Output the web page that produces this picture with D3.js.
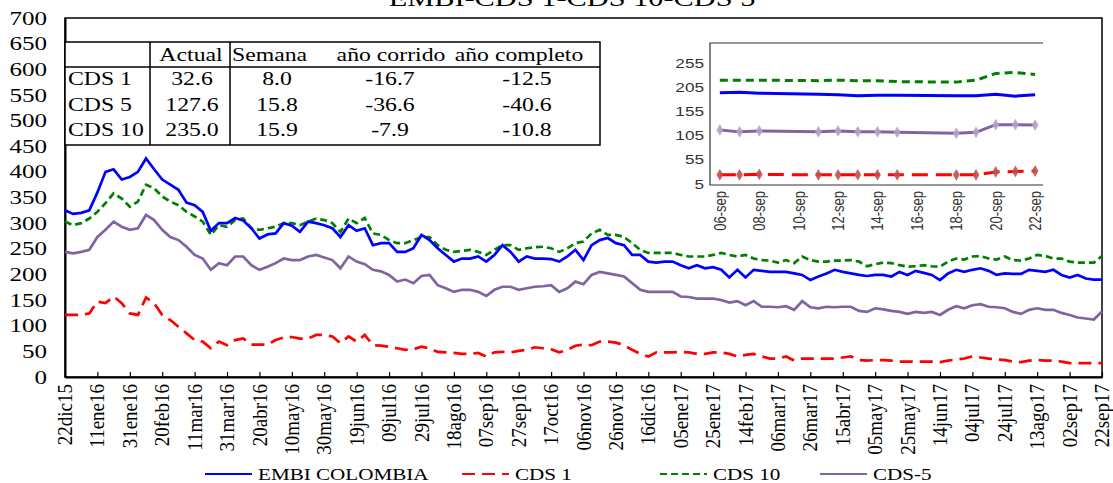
<!DOCTYPE html>
<html>
<head>
<meta charset="utf-8">
<script src="https://cdn.jsdelivr.net/npm/d3@7"></script>
<style>
  body { margin: 0; background: #fff; }
  svg text { font-family: "Liberation Serif", "Times New Roman", serif; fill: #000; }
  .inset text { font-family: "Liberation Sans", Arial, sans-serif; fill: #333; }
</style>
</head>
<body>
<div class="chart"></div>
<script>
// Serie principal: un dato cada 5 dias desde el 22dic15 hasta el 22sep17
var pasoDias = 5;
var embi = [325,318,320,325,360,400,405,385,390,400,
  426,405,385,375,365,340,335,322,285,300,
  300,310,305,290,270,278,280,300,295,283,
  303,300,296,290,273,296,285,290,257,261,
  261,244,244,251,277,267,251,238,225,231,
  231,235,225,238,257,244,225,235,231,231,
  230,225,235,248,228,257,267,271,261,257,
  238,238,225,223,225,225,218,212,218,212,
  214,209,194,209,194,209,207,205,205,205,
  202,199,189,196,202,209,205,202,199,197,
  199,199,196,205,199,207,203,199,189,202,
  209,205,209,212,207,199,202,201,201,209,
  207,205,209,199,194,199,192,190,190];
var cds1 = [121,121,121,124,147,144,157,144,124,121,
  155,144,121,111,98,85,72,69,56,69,
  62,72,75,63,63,63,72,77,78,75,
  75,82,82,79,66,79,69,82,62,61,
  59,56,53,54,59,56,49,48,47,45,
  45,47,40,48,49,48,51,53,58,56,
  54,48,53,61,63,62,69,69,67,62,
  53,45,40,48,48,48,49,48,45,45,
  48,48,45,40,43,45,40,36,36,40,
  32,36,36,36,36,36,38,40,33,32,
  33,33,32,30,30,30,30,30,29,32,
  34,36,40,38,36,34,33,30,29,32,
  33,32,32,30,27,27,27,27,27];
var cds10 = [303,296,300,309,322,339,358,348,332,342,
  375,368,352,342,335,322,313,303,277,296,
  293,306,309,290,287,290,293,300,300,296,
  303,309,306,300,283,309,300,310,280,277,
  267,261,261,267,273,273,257,248,244,246,
  248,244,238,248,257,257,248,251,253,254,
  251,244,251,261,264,280,287,277,277,273,
  261,248,242,242,242,242,238,235,235,235,
  238,242,238,235,238,231,228,227,223,228,
  222,235,228,225,225,227,227,228,225,216,
  220,223,222,218,215,216,218,216,215,225,
  231,229,235,236,231,229,235,228,227,231,
  238,236,231,231,225,223,223,223,236];
var cds5 = [244,241,244,248,273,287,303,293,287,290,
  316,306,287,273,267,254,238,231,209,222,
  218,235,235,218,209,215,222,231,228,228,
  235,238,233,228,212,235,225,220,209,206,
  199,186,190,183,197,199,179,173,166,170,
  170,166,158,170,176,176,170,173,176,177,
  179,166,173,186,181,199,205,202,199,196,
  183,170,166,166,166,166,157,156,153,153,
  153,150,145,148,140,148,137,137,136,138,
  131,148,136,134,137,136,137,137,129,127,
  134,132,129,127,123,127,125,127,121,131,
  138,134,140,142,137,136,134,127,123,131,
  134,131,131,125,121,116,114,112,128];

var etiquetasX = ["22dic15","11ene16","31ene16","20feb16","11mar16","31mar16","20abr16",
  "10may16","30may16","19jun16","09jul16","29jul16","18ago16","07sep16","27sep16",
  "17oct16","06nov16","26nov16","16dic16","05ene17","25ene17","14feb17","06mar17",
  "26mar17","15abr17","05may17","25may17","14jun17","04jul17","24jul17","13ago17",
  "02sep17","22sep17"];
var ticksY = [0,50,100,150,200,250,300,350,400,450,500,550,600,650,700];

// Tabla
var encabezados = ["", "Actual", "Semana", "año corrido", "año completo"];
var filas = ["CDS 1", "CDS 5", "CDS 10"];
var tablaActual = ["32.6", "127.6", "235.0"];
var tablaSemana = ["8.0", "15.8", "15.9"];
var tablaCorrido = ["-16.7", "-36.6", "-7.9"];
var tablaCompleto = ["-12.5", "-40.6", "-10.8"];

// Recuadro: ultimas dos semanas (dia de septiembre)
var diasInset = [6,7,8,11,12,13,14,15,18,19,20,21,22];
var embiInset = [194,195,193,191,190,188,189,189,188,188,191,187,190];
var cds10Inset = [220,220,220,219,220,219,219,217,216,220,234,236,232];
var cds5Inset = [117,113,115,113,115,113,113,112,110,112,128,128,127];
var cds1Inset = [24,24,25,24,24,24,24,24,24,24,30,31,32];
var ticksInsetY = [5,55,105,155,205,255];
var ticksInsetX = [6,8,10,12,14,16,18,20,22];

var svgWidth = 1113;
var svgHeight = 483;
var plot = {left: 65, right: 1102, top: 18, bottom: 377};
// el original esta estirado en horizontal, los textos tambien
var ancho = 1.32;

var svg = d3.select(".chart").append("svg")
  .attr("width", svgWidth)
  .attr("height", svgHeight);

// mueve x,y a un transform y estira el texto en horizontal
function estirar(sel) {
  sel.each(function() {
    var t = d3.select(this);
    var x = +t.attr("x") || 0;
    var y = +t.attr("y") || 0;
    t.attr("x", 0).attr("y", 0)
      .attr("transform", "translate(" + x + "," + y + ") scale(" + ancho + ",1)");
  });
}

var xScale = d3.scaleLinear().domain([0, 640]).range([plot.left, plot.right]);
var yScale = d3.scaleLinear().domain([0, 700]).range([plot.bottom, plot.top]);

// titulo (cortado arriba como en el original)
svg.append("text")
  .attr("x", 572).attr("y", 6)
  .attr("text-anchor", "middle")
  .style("font-size", "23px")
  .text("EMBI-CDS 1-CDS 10-CDS 5")
  .call(estirar);

// marco del grafico
svg.append("rect")
  .attr("x", plot.left).attr("y", plot.top)
  .attr("width", plot.right - plot.left).attr("height", plot.bottom - plot.top)
  .attr("fill", "none").attr("stroke", "#000").attr("stroke-width", 1.5);

// eje Y
var yAxis = svg.append("g")
  .attr("transform", "translate(" + plot.left + ",0)")
  .call(d3.axisLeft(yScale).tickValues(ticksY).tickSize(0).tickPadding(18));
yAxis.select(".domain").attr("stroke", "#000").attr("stroke-width", 2);
yAxis.selectAll("text").style("font-size", "19px").attr("font-family", null).call(estirar);

// eje X
var xAxis = svg.append("g")
  .attr("transform", "translate(0," + plot.bottom + ")")
  .call(d3.axisBottom(xScale)
    .tickValues(d3.range(0, 641, 20))
    .tickSize(-5).tickSizeOuter(0)
    .tickFormat(function(d, i) { return etiquetasX[i]; }));
xAxis.select(".domain").attr("stroke", "#000").attr("stroke-width", 2);
xAxis.selectAll(".tick line").attr("stroke", "#000").attr("stroke-width", 1.2);
xAxis.selectAll("text")
  .attr("font-family", null)
  .style("font-size", "19px")
  .attr("transform", "rotate(-90) scale(1,1.15)")
  .attr("x", -7).attr("y", 0).attr("dy", "0.3em")
  .style("text-anchor", "end");

// lineas
var series = [
  {datos: cds5, color: "#8064a2", dash: null},
  {datos: cds1, color: "#ff0000", dash: "13,7"},
  {datos: cds10, color: "#008000", dash: "7,4"},
  {datos: embi, color: "#0000ff", dash: null}
];
var linea = d3.line()
  .x(function(d, i) { return xScale(i * pasoDias); })
  .y(function(d) { return yScale(d); });

svg.selectAll(".serie")
  .data(series)
  .enter()
  .append("path")
  .attr("class", "serie")
  .attr("d", function(s) { return linea(s.datos); })
  .attr("fill", "none")
  .attr("stroke", function(s) { return s.color; })
  .attr("stroke-width", 2.7)
  .attr("stroke-dasharray", function(s) { return s.dash; });

// tabla
var tabla = {x0: 65, x1: 600, y0: 42, y1: 145, yHeader: 67};
var colLineas = [150, 230];
var tg = svg.append("g").attr("class", "tabla");
tg.append("rect")
  .attr("x", tabla.x0).attr("y", tabla.y0)
  .attr("width", tabla.x1 - tabla.x0).attr("height", tabla.y1 - tabla.y0)
  .attr("fill", "#fff").attr("stroke", "#000").attr("stroke-width", 1.5);
tg.append("line")
  .attr("x1", tabla.x0).attr("x2", tabla.x1)
  .attr("y1", tabla.yHeader).attr("y2", tabla.yHeader)
  .attr("stroke", "#000").attr("stroke-width", 1.5);
colLineas.forEach(function(cx) {
  tg.append("line")
    .attr("x1", cx).attr("x2", cx)
    .attr("y1", tabla.y0).attr("y2", tabla.y1)
    .attr("stroke", "#000").attr("stroke-width", 1.5);
});
var headX = [0, 191, 232, 391, 519];
var headAnchor = ["start", "middle", "start", "middle", "middle"];
encabezados.forEach(function(t, i) {
  tg.append("text")
    .attr("x", headX[i]).attr("y", 55).attr("dy", "0.35em")
    .attr("text-anchor", headAnchor[i])
    .style("font-size", "18px")
    .text(t)
    .call(estirar);
});
var colX = [192, 277, 390, 527];
var columnas = [tablaActual, tablaSemana, tablaCorrido, tablaCompleto];
filas.forEach(function(f, r) {
  var yy = 79 + r * 25.5;
  tg.append("text").attr("x", 68).attr("y", yy).attr("dy", "0.35em")
    .style("font-size", "18px").text(f).call(estirar);
  columnas.forEach(function(col, c) {
    tg.append("text").attr("x", colX[c]).attr("y", yy).attr("dy", "0.35em")
      .attr("text-anchor", "middle")
      .style("font-size", "18px").text(col[r]).call(estirar);
  });
});

// recuadro ultimas semanas
var ins = {left: 710, right: 1043, top: 43, bottom: 185};
var xi = d3.scaleLinear().domain([5.5, 22.4]).range([ins.left, ins.right]);
var yi = d3.scaleLinear().domain([3, 297]).range([ins.bottom, ins.top]);
var ig = svg.append("g").attr("class", "inset");

ig.append("path")
  .attr("d", "M" + ins.right + "," + ins.top + "H" + ins.left + "V" + ins.bottom + "H" + ins.right)
  .attr("fill", "none").attr("stroke", "#333").attr("stroke-width", 1.2);

ig.selectAll(".ylab")
  .data(ticksInsetY)
  .enter().append("text")
  .attr("class", "ylab")
  .attr("x", ins.left - 6).attr("y", function(d) { return yi(d); })
  .attr("dy", "0.35em").attr("text-anchor", "end")
  .style("font-size", "13px")
  .text(function(d) { return d; })
  .call(estirar);

ig.selectAll(".xlab")
  .data(ticksInsetX)
  .enter().append("text")
  .attr("class", "xlab")
  .attr("transform", function(d) {
    return "translate(" + xi(d) + "," + (ins.bottom + 6) + ") rotate(-90) scale(1," + ancho + ")";
  })
  .attr("dy", "0.35em").attr("text-anchor", "end")
  .style("font-size", "13px")
  .text(function(d) { return (d < 10 ? "0" + d : d) + "-sep"; });

var lineaIns = d3.line()
  .x(function(d, i) { return xi(diasInset[i]); })
  .y(function(d) { return yi(d); });

var seriesIns = [
  {datos: cds10Inset, color: "#008000", dash: "8,5", marca: null},
  {datos: embiInset, color: "#0000ff", dash: null, marca: null},
  {datos: cds5Inset, color: "#8064a2", dash: null, marca: "#b3a2c7"},
  {datos: cds1Inset, color: "#ff0000", dash: "16,8", marca: "#c0504d"}
];
seriesIns.forEach(function(s) {
  ig.append("path")
    .attr("d", lineaIns(s.datos))
    .attr("fill", "none")
    .attr("stroke", s.color)
    .attr("stroke-width", 3)
    .attr("stroke-dasharray", s.dash);
  if (s.marca) {
    ig.selectAll(null)
      .data(s.datos)
      .enter().append("path")
      .attr("d", d3.symbol().type(d3.symbolDiamond).size(40))
      .attr("transform", function(d, i) { return "translate(" + xi(diasInset[i]) + "," + yi(d) + ")"; })
      .attr("fill", s.marca)
      .attr("opacity", 0.9);
  }
});

// leyenda
var leyenda = [
  {nombre: "EMBI COLOMBIA", color: "#0000ff", dash: null, x: 205},
  {nombre: "CDS 1", color: "#ff0000", dash: "13,7", x: 462},
  {nombre: "CDS 10", color: "#008000", dash: "7,4", x: 660},
  {nombre: "CDS-5", color: "#8064a2", dash: null, x: 820}
];
var lg = svg.append("g").attr("transform", "translate(0,474)");
leyenda.forEach(function(l) {
  lg.append("line")
    .attr("x1", l.x).attr("x2", l.x + 47)
    .attr("y1", 0).attr("y2", 0)
    .attr("stroke", l.color).attr("stroke-width", 2.2)
    .attr("stroke-dasharray", l.dash);
  lg.append("text")
    .attr("x", l.x + 53).attr("y", 0).attr("dy", "0.35em")
    .style("font-size", "16px")
    .text(l.nombre)
    .call(estirar);
});
</script>
</body>
</html>
